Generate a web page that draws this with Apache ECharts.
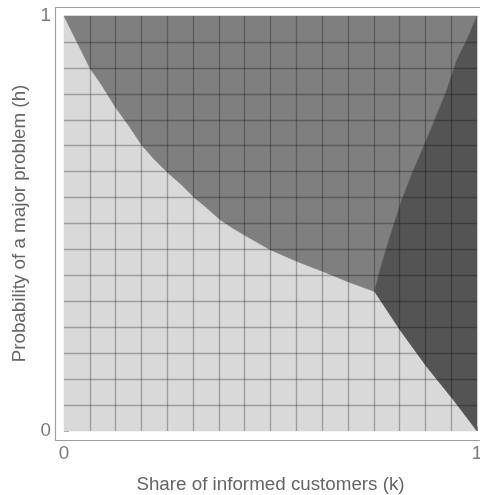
<!DOCTYPE html>
<html><head><meta charset="utf-8">
<script src="https://cdn.jsdelivr.net/npm/echarts@6/dist/echarts.min.js"></script>
<style>html,body{margin:0;padding:0;background:#fff}#c{width:480px;height:495px}</style>
</head><body><div id="c"></div>
<script>
// Boundary between the light (lower-left) and medium (top) regions: from (k=0,h=1) to the triple point
const boundaryLightMedium = [[0,1],[0.031,0.938],[0.063,0.874],[0.091,0.834],[0.124,0.781],[0.156,0.737],[0.188,0.689],[0.22,0.653],[0.253,0.621],[0.285,0.593],[0.317,0.561],[0.337,0.545],[0.378,0.509],[0.41,0.488],[0.442,0.469],[0.499,0.437],[0.563,0.409],[0.628,0.384],[0.692,0.358],[0.752,0.336]];
// Boundary between the medium (top) and dark (right) regions: from the triple point to (1,1)
const boundaryMediumDark = [[0.752,0.336],[0.765,0.388],[0.789,0.468],[0.818,0.557],[0.846,0.629],[0.874,0.693],[0.902,0.761],[0.927,0.822],[0.951,0.894],[0.975,0.942],[1,1]];
// Boundary between the light and dark regions: from the triple point to (1,0)
const boundaryLightDark = [[0.752,0.336],[0.814,0.243],[0.878,0.155],[0.943,0.075],[1,0]];
const regionNames = ['light','medium','dark'];
const regionColors = ['#d9d9d9','#7f7f7f','#545454'];
const meshStep = 1/16;
const xTitle = 'Share of informed customers (k)';
const yTitle = 'Probability of a major problem (h)';

const regions = [
  [[0,0]].concat(boundaryLightMedium, boundaryLightDark.slice(1)),
  boundaryLightMedium.concat(boundaryMediumDark.slice(1)),
  boundaryMediumDark.concat(boundaryLightDark.slice().reverse().slice(0,-1))
];

const font = "'Liberation Sans', Arial, sans-serif";
const tickLabelColor = '#7c7c7c';
const titleColor = '#666666';
const frameColor = '#a0a0a0';

const chart = echarts.init(document.getElementById('c'), null, {renderer:'canvas'});
const meshAxis = {
  type:'value', min:0, max:1, interval:meshStep, z:10,
  axisLine:{show:false}, axisTick:{show:false}, axisLabel:{show:false},
  splitLine:{show:true, showMinLine:false, showMaxLine:false, lineStyle:{color:'rgba(0,0,0,0.27)', width:1.4}}
};
chart.setOption({
  animation:false,
  grid:{left:64, top:16, right:3, bottom:64, containLabel:false, outerBoundsMode:'none'},
  xAxis:[
    Object.assign({}, meshAxis),
    {type:'value', min:0, max:1, interval:1, position:'bottom', offset:9,
     axisLine:{show:false}, splitLine:{show:false},
     axisTick:{show:true, inside:true, length:4, lineStyle:{color:frameColor}},
     axisLabel:{color:tickLabelColor, fontSize:18.8, fontFamily:font, margin:4},
     name:xTitle, nameLocation:'middle', nameGap:35,
     nameTextStyle:{color:titleColor, fontSize:18.8, fontFamily:font}}
  ],
  yAxis:[
    Object.assign({}, meshAxis),
    {type:'value', min:0, max:1, interval:1, position:'left', offset:9,
     axisLine:{show:false}, splitLine:{show:false},
     axisTick:{show:true, inside:true, length:5, lineStyle:{color:frameColor}},
     axisLabel:{color:tickLabelColor, fontSize:18.8, fontFamily:font, margin:4},
     name:yTitle, nameLocation:'middle', nameGap:23,
     nameTextStyle:{color:titleColor, fontSize:18.8, fontFamily:font}}
  ],
  graphic:[{type:'polyline', silent:true, z:100,
    shape:{points:[[490,7.5],[55.5,7.5],[55.5,440.5],[490,440.5]]},
    style:{stroke:frameColor, lineWidth:1.2, fill:null}}],
  series:[{
    type:'custom', xAxisIndex:0, yAxisIndex:0, silent:true, z:2,
    data: regionNames.map((n,i)=>[i]),
    encode:{x:-1, y:-1},
    renderItem:(params, api)=>{
      const i = params.dataIndex;
      const pts = regions[i].map(p=>api.coord(p));
      return {type:'polygon', shape:{points:pts},
        style:{fill:regionColors[i], stroke:regionColors[i], lineWidth:0.6}};
    }
  }]
});
</script></body></html>
